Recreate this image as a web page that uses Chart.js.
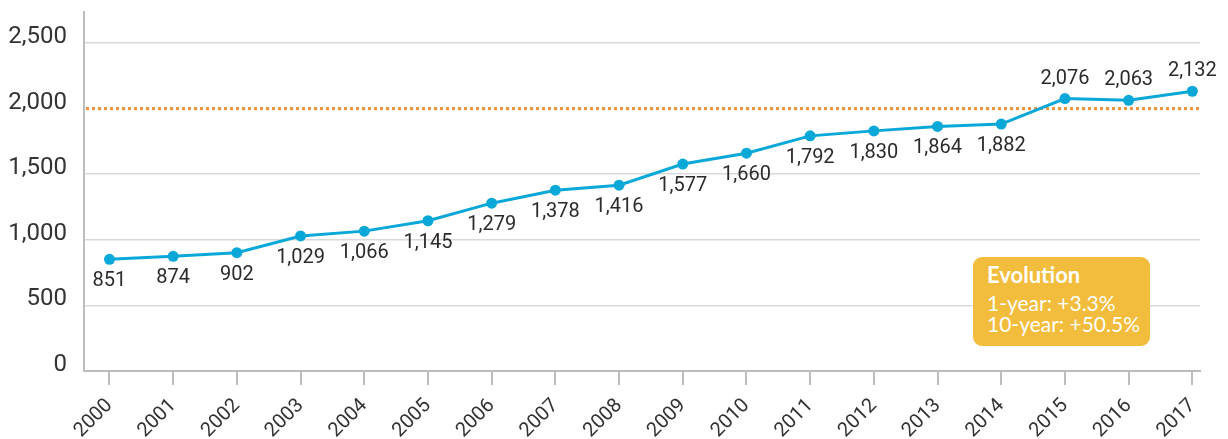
<!DOCTYPE html>
<html>
<head>
<meta charset="utf-8">
<title>Evolution 2000-2017</title>
<script src="https://cdn.jsdelivr.net/npm/chart.js@4.4.1/dist/chart.umd.min.js"></script>
<style>
    body { margin: 0; background: #fff; }
    #wrap { position: relative; width: 1228px; height: 439px; }
    .evolution-box {
        position: absolute; left: 973px; top: 257px; width: 177px; height: 89px;
        box-sizing: border-box; padding: 7px 0 0 14px;
        background: #f2bc3c; border-radius: 9px; color: #fff;
        font-family: Lato, "Open Sans", sans-serif; font-size: 21px; line-height: 21px;
    }
    .evolution-box .title { font-weight: 700; font-size: 22px; line-height: 22px; margin-bottom: 6px; }
</style>
</head>
<body>
<div id="wrap">
    <canvas id="yearlyChart" width="1228" height="439"></canvas>
    <div class="evolution-box">
        <div class="title">Evolution</div>
        <div>1-year: +3.3%</div>
        <div>10-year: +50.5%</div>
    </div>
</div>
<script>
var years = [2000, 2001, 2002, 2003, 2004, 2005, 2006, 2007, 2008, 2009, 2010, 2011, 2012, 2013, 2014, 2015, 2016, 2017];
var values = [851, 874, 902, 1029, 1066, 1145, 1279, 1378, 1416, 1577, 1660, 1792, 1830, 1864, 1882, 2076, 2063, 2132];
var yTicks = [0, 500, 1000, 1500, 2000, 2500];
var refLevel = 2000;
var labelsAbove = [2015, 2016, 2017];

var fmt = function (v) {
    return Number(v).toLocaleString('en-US');
};

// dotted orange line at the 2000 level
var refLine = {
    id: 'refLine',
    beforeDatasetsDraw: function (chart) {
        var ctx = chart.ctx;
        var area = chart.chartArea;
        var y = chart.scales.y.getPixelForValue(refLevel);
        ctx.save();
        ctx.strokeStyle = '#f0913a';
        ctx.lineWidth = 3;
        ctx.setLineDash([3, 3]);
        ctx.beginPath();
        ctx.moveTo(area.left + 2, y);
        ctx.lineTo(area.right, y);
        ctx.stroke();
        ctx.restore();
    }
};

// value labels under (or above) each point
var valueLabels = {
    id: 'valueLabels',
    afterDatasetsDraw: function (chart) {
        var ctx = chart.ctx;
        var meta = chart.getDatasetMeta(0);
        ctx.save();
        ctx.font = '20px Roboto';
        ctx.fillStyle = '#2b2b2b';
        ctx.textAlign = 'center';
        ctx.textBaseline = 'middle';
        for (var i = 0; i < meta.data.length; i++) {
            var pt = meta.data[i];
            var up = labelsAbove.indexOf(years[i]) !== -1;
            ctx.fillText(fmt(values[i]), pt.x, up ? pt.y - 20 : pt.y + 22);
        }
        ctx.restore();
    }
};

var points = [];
for (var i = 0; i < years.length; i++) {
    points.push({ x: years[i], y: values[i] });
}

new Chart(document.getElementById('yearlyChart'), {
    type: 'line',
    data: {
        datasets: [{
            data: points,
            borderColor: '#0aa8d8',
            backgroundColor: '#0aa8d8',
            borderWidth: 3,
            pointRadius: 5.5,
            pointBorderWidth: 0,
            tension: 0
        }]
    },
    options: {
        responsive: false,
        devicePixelRatio: 1,
        animation: false,
        layout: { padding: { top: 12, right: 28, left: 0, bottom: 0 } },
        plugins: { legend: { display: false }, tooltip: { enabled: false } },
        scales: {
            x: {
                type: 'linear',
                min: 1999.6,
                max: 2017.12,
                afterBuildTicks: function (axis) {
                    axis.ticks = years.map(function (y) { return { value: y }; });
                },
                afterFit: function (scale) {
                    scale.height = 68;
                    scale.paddingLeft = 0;
                    scale.paddingRight = 0;
                },
                ticks: {
                    autoSkip: false,
                    maxRotation: 45,
                    minRotation: 45,
                    padding: 9,
                    color: '#333',
                    font: { family: 'Roboto', size: 20 },
                    callback: function (v) { return String(v); }
                },
                grid: { drawOnChartArea: false, tickLength: 14, color: '#bdbdbd', lineWidth: 2 },
                border: { color: '#bdbdbd', width: 2 }
            },
            y: {
                min: 0,
                max: 2736,
                afterBuildTicks: function (axis) {
                    axis.ticks = yTicks.map(function (v) { return { value: v }; });
                },
                afterFit: function (scale) {
                    scale.width = 84;
                    scale.paddingTop = 0;
                    scale.paddingBottom = 0;
                },
                ticks: {
                    padding: 17,
                    labelOffset: -6,
                    color: '#333',
                    font: { family: 'Roboto', size: 24 },
                    callback: function (v) { return fmt(v); }
                },
                grid: {
                    drawTicks: false,
                    lineWidth: 1.5,
                    color: function (c) {
                        if (c.tick && (c.tick.value === 0 || c.tick.value === refLevel)) return 'rgba(0,0,0,0)';
                        return '#d9d9d9';
                    }
                },
                border: { color: '#bdbdbd', width: 2 }
            }
        }
    },
    plugins: [refLine, valueLabels]
});
</script>
</body>
</html>
